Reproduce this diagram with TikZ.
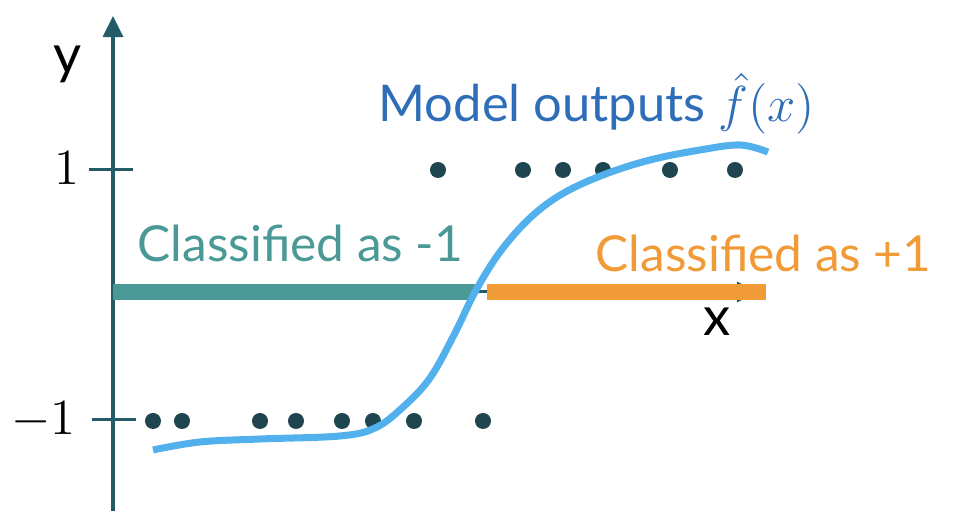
\documentclass[tikz,border=0pt]{standalone}
\usepackage{fontspec}
\setmainfont{Lato}
\usetikzlibrary{arrows.meta,positioning}
\definecolor{axiscol}{HTML}{245B69}
\definecolor{dotcol}{HTML}{1F4550}
\definecolor{negcol}{HTML}{4A9996}
\definecolor{poscol}{HTML}{F09A38}
\definecolor{fitcol}{HTML}{52B0EC}
\definecolor{labcol}{HTML}{2E6DB8}
\tikzset{
	axis/.style={axiscol,line width=0.03cm},
	dot/.style={circle,fill=dotcol,inner sep=0pt,minimum size=0.16cm},
	band/.style={line width=0.16cm},
	big/.style={font=\fontsize{15.5}{18}\selectfont,inner sep=0pt,anchor=base},
	cls/.style={font=\fontsize{14.1}{17}\selectfont,inner sep=0pt,anchor=base west},
}
\begin{document}
\begin{tikzpicture}[x=0.01cm,y=-0.01cm]
		\useasboundingbox (0,0) rectangle (956,522);
		\coordinate (o) at (113,292);
		\coordinate (ybot) at (113,511);
		\coordinate (ytop) at (113,16);
		\coordinate (xend) at (758,292);
		% axes
		\draw[axis,-{Triangle[width=0.2cm,length=0.21cm]}] (ybot) -- (ytop);
		\draw[axis,-{Triangle[width=0.2cm,length=0.21cm]}] (o) -- (xend);
		\draw[axis] (89,170) -- (133,170) coordinate (tp);
		\draw[axis] (92,420) -- (136,420) coordinate (tm);
		\node[big,anchor=base east] (one) at (80,185) {$1$};
		\node[big,anchor=base east] (mone) at (76,435) {$-1$};
		\node[big] (ylab) at (68,74) {y};
		\node[big] (xlab) at (717,336) {x};
		% thresholded output
		\draw[band,negcol] (o) -- (475,292) coordinate (cut);
		\draw[band,poscol] (487,292) -- (766,292);
		\node[cls,negcol] (neg) at (137,262) {Classified as -1};
		\node[cls,poscol] (pos) at (595,272) {Classified as +1};
		% data
		\foreach \x in {438,523,563,603,670,735}
			\node[dot] at (\x,170) {};
		\foreach \x in {153,182,260,296,342,373,414,483}
			\node[dot] at (\x,421) {};
		% model
		\draw[fitcol,line width=0.07cm] plot[smooth,tension=0.6] coordinates {(153,450) (200,442) (260,439) (340,436) (375,428) (402,408) (430,378) (455,333) (cut) (500,252) (530,218) (562,194) (603,175) (650,160) (700,150) (740,145) (768,152)};
		\node[labcol,inner sep=0pt,anchor=base west,font=\fontsize{14.4}{17}\selectfont] (fit) at (378,122) {Model outputs $\hat{f}(x)$};
	\end{tikzpicture}
\end{document}
